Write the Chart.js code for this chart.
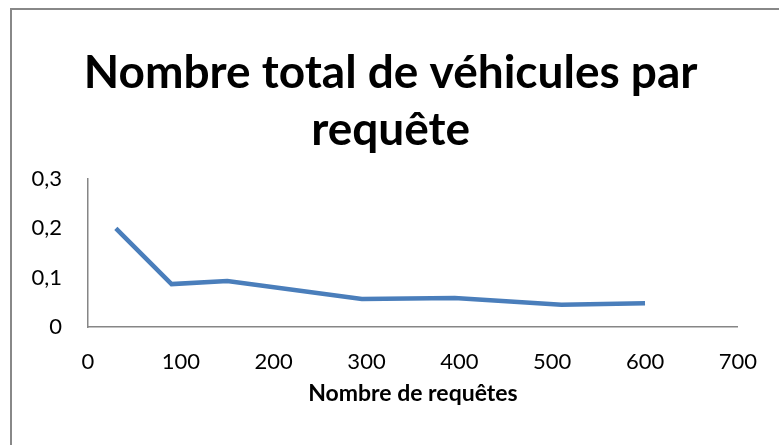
<!DOCTYPE html>
<html>
  <head>
    <meta charset="utf-8">
    <title>Nombre total de véhicules par requête</title>
    <script src="https://cdn.jsdelivr.net/npm/chart.js"></script>
    <style>
      body { margin: 0; background: #fff; }
      .frame {
        position: absolute; left: 10px; top: 8px; width: 800px; height: 500px;
        border-left: 2px solid #888; border-top: 2px solid #888;
      }
      .chart-container { position: absolute; left: 0; top: 0; width: 779px; height: 445px; }
    </style>
  </head>
  <body>
    <div class="frame"></div>
    <div class="chart-container">
      <canvas id="chart"></canvas>
    </div>

    <script>
      // values
      const requetes = [30, 90, 150, 295, 395, 510, 600];
      const vehicules = [0.2, 0.087, 0.093, 0.057, 0.059, 0.045, 0.048];
      const titleLines = ['Nombre total de véhicules par', 'requête'];
      const xTitle = 'Nombre de requêtes';

      // the original title is centred on the whole chart object, a bit right of the canvas centre
      const titleShift = '\u2003\u2009';

      const ctx = document.getElementById('chart').getContext('2d');
      new Chart(ctx, {
        type: 'scatter',
        data: {
          datasets: [{
            data: requetes.map((x, i) => ({ x: x, y: vehicules[i] })),
            showLine: true,
            borderColor: '#4A7EBB',
            borderWidth: 4.5,
            pointRadius: 0,
            tension: 0
          }]
        },
        options: {
          responsive: true,
          maintainAspectRatio: false,
          animation: false,
          layout: { padding: { left: 0, right: 38, top: 44, bottom: 0 } },
          plugins: {
            legend: { display: false },
            tooltip: { enabled: false },
            title: {
              display: true,
              text: titleLines.map(t => titleShift + t),
              color: '#000',
              font: { family: 'Lato', size: 46, weight: 'bold', lineHeight: 1.25 },
              padding: { top: 0, bottom: 20 }
            }
          },
          scales: {
            x: {
              type: 'linear',
              min: 0, max: 700,
              grid: { display: false, drawTicks: false },
              border: { display: true, color: '#868686', width: 1.5 },
              afterFit: (scale) => { scale.height = 118; },
              ticks: {
                stepSize: 100, padding: 22, color: '#000',
                font: { family: 'Lato', size: 22 }
              },
              title: {
                display: true, text: xTitle, color: '#000',
                font: { family: 'Lato', size: 23, weight: 'bold' },
                padding: { top: 0, bottom: 38 }
              }
            },
            y: {
              min: 0, max: 0.3,
              grid: { display: false, drawTicks: false },
              border: { display: true, color: '#868686', width: 1.5 },
              afterFit: (scale) => { scale.width = 88; },
              ticks: {
                stepSize: 0.1, padding: 26, color: '#000',
                font: { family: 'Lato', size: 22 },
                callback: (v) => v === 0 ? '0' : v.toFixed(1).replace('.', ',')
              }
            }
          }
        }
      });
    </script>
  </body>
</html>
